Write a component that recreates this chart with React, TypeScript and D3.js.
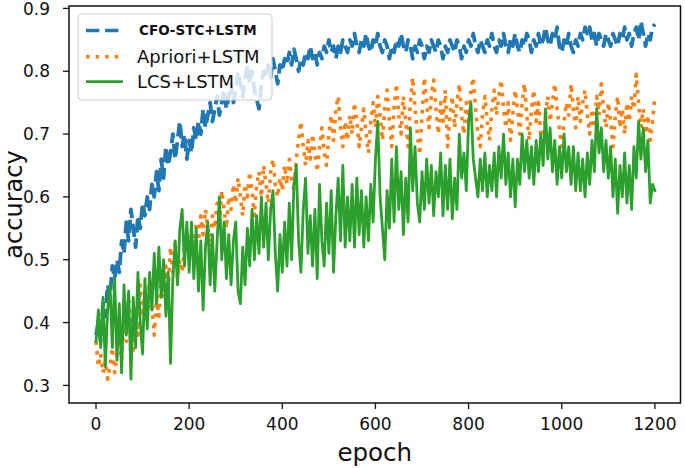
import React from "react";
import * as d3 from "d3";

const epochStep = 5;
const xTicks = [0, 200, 400, 600, 800, 1000, 1200];
const yTicks = [0.3, 0.4, 0.5, 0.6, 0.7, 0.8, 0.9];
const seriesNames = ["CFO-STC+LSTM", "Apriori+LSTM", "LCS+LSTM"];

const cfoStc = [
  0.38, 0.40, 0.37, 0.43, 0.41, 0.46, 0.44, 0.49, 0.47, 0.50, 0.48, 0.53, 0.51, 0.56, 0.53, 0.58, 0.55, 0.52, 0.57, 0.55,
  0.59, 0.57, 0.60, 0.58, 0.62, 0.60, 0.64, 0.61, 0.66, 0.63, 0.68, 0.65, 0.67, 0.70, 0.66, 0.69, 0.72, 0.68, 0.70, 0.66,
  0.69, 0.67, 0.71, 0.69, 0.72, 0.70, 0.74, 0.71, 0.73, 0.75, 0.72, 0.74, 0.76, 0.73, 0.75, 0.77, 0.74, 0.76, 0.78, 0.75,
  0.77, 0.80, 0.78, 0.76, 0.79, 0.81, 0.78, 0.80, 0.77, 0.755, 0.74, 0.78, 0.80, 0.79, 0.81, 0.79, 0.82, 0.80, 0.78, 0.81,
  0.80, 0.82, 0.81, 0.83, 0.81, 0.835, 0.82, 0.80, 0.82, 0.81, 0.83, 0.82, 0.84, 0.82, 0.83, 0.81, 0.83, 0.82, 0.84, 0.83,
  0.85, 0.83, 0.84, 0.82, 0.84, 0.83, 0.85, 0.84, 0.83, 0.85, 0.84, 0.86, 0.84, 0.83, 0.85, 0.84, 0.86, 0.84, 0.83, 0.85,
  0.84, 0.86, 0.84, 0.83, 0.85, 0.84, 0.82, 0.84, 0.83, 0.85, 0.84, 0.86, 0.84, 0.83, 0.85, 0.84, 0.82, 0.84, 0.83, 0.85,
  0.84, 0.82, 0.84, 0.83, 0.85, 0.84, 0.83, 0.85, 0.84, 0.82, 0.84, 0.83, 0.85, 0.84, 0.83, 0.85, 0.84, 0.82, 0.84, 0.83,
  0.85, 0.84, 0.86, 0.84, 0.83, 0.85, 0.84, 0.83, 0.85, 0.84, 0.86, 0.84, 0.83, 0.85, 0.84, 0.86, 0.84, 0.83, 0.85, 0.84,
  0.86, 0.84, 0.83, 0.85, 0.84, 0.86, 0.85, 0.83, 0.85, 0.84, 0.86, 0.84, 0.85, 0.87, 0.85, 0.84, 0.86, 0.85, 0.87, 0.84,
  0.83, 0.85, 0.84, 0.86, 0.84, 0.83, 0.85, 0.84, 0.86, 0.85, 0.87, 0.86, 0.87, 0.85, 0.86, 0.84, 0.86, 0.85, 0.84, 0.86,
  0.85, 0.84, 0.86, 0.85, 0.84, 0.86, 0.85, 0.87, 0.85, 0.86, 0.84, 0.86, 0.87, 0.85, 0.88, 0.86, 0.84, 0.86, 0.85, 0.87,
  0.875,
];

const apriori = [
  0.37, 0.33, 0.35, 0.32, 0.34, 0.31, 0.33, 0.36, 0.32, 0.35, 0.38, 0.34, 0.41, 0.37, 0.44, 0.39, 0.35, 0.42, 0.38, 0.46,
  0.41, 0.45, 0.40, 0.47, 0.43, 0.38, 0.44, 0.41, 0.47, 0.44, 0.49, 0.45, 0.52, 0.48, 0.53, 0.47, 0.50, 0.48, 0.52, 0.55,
  0.50, 0.54, 0.51, 0.56, 0.53, 0.57, 0.54, 0.58, 0.55, 0.52, 0.57, 0.55, 0.59, 0.56, 0.61, 0.58, 0.55, 0.60, 0.58, 0.62,
  0.59, 0.63, 0.60, 0.57, 0.62, 0.60, 0.64, 0.61, 0.57, 0.62, 0.64, 0.60, 0.65, 0.62, 0.59, 0.64, 0.66, 0.62, 0.60, 0.63,
  0.61, 0.65, 0.62, 0.66, 0.63, 0.61, 0.66, 0.69, 0.72, 0.68, 0.65, 0.69, 0.66, 0.70, 0.67, 0.64, 0.68, 0.71, 0.67, 0.65,
  0.70, 0.73, 0.69, 0.74, 0.76, 0.71, 0.68, 0.72, 0.69, 0.73, 0.70, 0.75, 0.72, 0.68, 0.71, 0.74, 0.70, 0.67, 0.72, 0.75,
  0.71, 0.76, 0.73, 0.69, 0.74, 0.77, 0.72, 0.68, 0.74, 0.78, 0.73, 0.70, 0.76, 0.72, 0.68, 0.75, 0.79, 0.74, 0.70, 0.667,
  0.73, 0.79, 0.75, 0.71, 0.76, 0.786, 0.74, 0.70, 0.75, 0.72, 0.77, 0.68, 0.73, 0.76, 0.71, 0.75, 0.78, 0.73, 0.70, 0.75,
  0.72, 0.77, 0.79, 0.74, 0.70, 0.68, 0.73, 0.76, 0.72, 0.69, 0.74, 0.77, 0.73, 0.76, 0.786, 0.74, 0.71, 0.75, 0.69, 0.73,
  0.77, 0.74, 0.70, 0.75, 0.78, 0.73, 0.69, 0.74, 0.77, 0.72, 0.75, 0.70, 0.68, 0.73, 0.76, 0.72, 0.75, 0.78, 0.74, 0.71,
  0.68, 0.72, 0.75, 0.73, 0.78, 0.74, 0.71, 0.76, 0.72, 0.75, 0.77, 0.73, 0.70, 0.74, 0.71, 0.76, 0.73, 0.78, 0.74, 0.71,
  0.75, 0.72, 0.68, 0.73, 0.76, 0.71, 0.74, 0.70, 0.75, 0.72, 0.76, 0.74, 0.795, 0.75, 0.71, 0.74, 0.70, 0.73, 0.69, 0.72,
  0.76,
];

const lcs = [
  0.37, 0.42, 0.36, 0.44, 0.33, 0.42, 0.46, 0.36, 0.47, 0.34, 0.43, 0.32, 0.46, 0.38, 0.45, 0.31, 0.44, 0.36, 0.48, 0.40,
  0.35, 0.47, 0.39, 0.48, 0.42, 0.51, 0.43, 0.52, 0.44, 0.50, 0.41, 0.48, 0.335, 0.47, 0.53, 0.46, 0.55, 0.58, 0.49, 0.56,
  0.48, 0.56, 0.47, 0.55, 0.45, 0.53, 0.42, 0.52, 0.56, 0.46, 0.54, 0.45, 0.53, 0.60, 0.50, 0.56, 0.47, 0.54, 0.46, 0.53,
  0.56, 0.45, 0.43, 0.52, 0.46, 0.55, 0.49, 0.58, 0.50, 0.57, 0.51, 0.60, 0.52, 0.59, 0.50, 0.58, 0.61, 0.51, 0.45, 0.54,
  0.48, 0.56, 0.49, 0.59, 0.50, 0.62, 0.65, 0.53, 0.48, 0.58, 0.63, 0.51, 0.57, 0.49, 0.58, 0.47, 0.62, 0.53, 0.49, 0.59,
  0.51, 0.61, 0.48, 0.57, 0.63, 0.53, 0.65, 0.52, 0.60, 0.53, 0.62, 0.52, 0.63, 0.54, 0.61, 0.52, 0.60, 0.53, 0.62, 0.56,
  0.66, 0.72, 0.60, 0.55, 0.50, 0.61, 0.55, 0.66, 0.56, 0.68, 0.58, 0.64, 0.54, 0.63, 0.56, 0.71, 0.61, 0.68, 0.59, 0.56,
  0.64, 0.58, 0.66, 0.59, 0.65, 0.57, 0.64, 0.60, 0.67, 0.57, 0.65, 0.58, 0.66, 0.565, 0.63, 0.58, 0.70, 0.63, 0.67, 0.61,
  0.72, 0.75, 0.66, 0.63, 0.60, 0.66, 0.61, 0.67, 0.60, 0.65, 0.61, 0.67, 0.60, 0.68, 0.63, 0.70, 0.62, 0.67, 0.60, 0.66,
  0.584, 0.66, 0.62, 0.70, 0.64, 0.69, 0.63, 0.68, 0.62, 0.69, 0.64, 0.70, 0.65, 0.74, 0.66, 0.71, 0.64, 0.69, 0.62, 0.68,
  0.63, 0.70, 0.64, 0.68, 0.62, 0.68, 0.61, 0.67, 0.61, 0.66, 0.60, 0.67, 0.62, 0.69, 0.64, 0.74, 0.67, 0.71, 0.64, 0.69,
  0.63, 0.68, 0.60, 0.66, 0.574, 0.65, 0.60, 0.67, 0.59, 0.65, 0.58, 0.68, 0.63, 0.72, 0.66, 0.71, 0.64, 0.69, 0.59, 0.62,
  0.61,
];

const colors = ["#1f77b4", "#ff7f0e", "#2ca02c"];
const FONT = "DejaVu Sans, sans-serif";
const LW = 3.6;
const widths = [3.8, 3.6, 2.8];

export default function App() {
  const W = 685;
  const H = 468;
  const x = d3.scaleLinear().domain([-58, 1255]).range([69, 680.5]);
  const y = d3.scaleLinear().domain([0.272, 0.9038]).range([403, 6]);
  const line = d3
    .line<number>()
    .x((_, i) => x(i * epochStep))
    .y((d) => y(d));
  const series = [cfoStc, apriori, lcs];
  const dashes = [`${LW * 3.7} ${LW * 1.6}`, `${LW} ${LW * 1.65}`, undefined];
  const [x0, x1] = x.range();
  const [yb, yt] = y.range();
  const legendRows = [30.5, 56.7, 81.7];

  return (
    <svg
      width={W}
      height={H}
      style={{ position: "absolute", left: 0, top: 0, background: "#fff" }}
    >
      <rect x={0} y={0} width={W} height={H} fill="#fff" />
      <defs>
        <clipPath id="plotClip">
          <rect x={x0} y={yt} width={x1 - x0} height={yb - yt} />
        </clipPath>
      </defs>
      <g clipPath="url(#plotClip)">
        {series.map((s, k) => (
          <path
            key={k}
            d={line(s) || ""}
            fill="none"
            stroke={colors[k]}
            strokeWidth={widths[k]}
            strokeDasharray={dashes[k]}
            strokeLinejoin="round"
            strokeLinecap={k === 2 ? "square" : "butt"}
          />
        ))}
      </g>
      {/* spines */}
      <rect x={x0} y={yt} width={x1 - x0} height={yb - yt} fill="none" stroke="#111" strokeWidth={1.5} />
      {/* x ticks */}
      {xTicks.map((t) => (
        <g key={t}>
          <line x1={x(t)} x2={x(t)} y1={yb} y2={yb + 6} stroke="#111" strokeWidth={1.3} />
          <text x={x(t)} y={429.5} textAnchor="middle" fontFamily={FONT} fontSize={17} fill="#111">
            {t}
          </text>
        </g>
      ))}
      {/* y ticks */}
      {yTicks.map((t) => (
        <g key={t}>
          <line x1={x0 - 6} x2={x0} y1={y(t)} y2={y(t)} stroke="#111" strokeWidth={1.3} />
          <text x={50} y={y(t) + 6.2} textAnchor="end" fontFamily={FONT} fontSize={17} fill="#111">
            {t.toFixed(1)}
          </text>
        </g>
      ))}
      <text x={(x0 + x1) / 2} y={461} textAnchor="middle" fontFamily={FONT} fontSize={24.5} fill="#111">
        epoch
      </text>
      <text
        transform={`translate(21.5, ${(yb + yt) / 2}) rotate(-90)`}
        textAnchor="middle"
        fontFamily={FONT}
        fontSize={24}
        fill="#111"
      >
        accuracy
      </text>
      {/* legend */}
      <rect x={78} y={14} width={194} height={86} rx={4} fill="#fff" fillOpacity={0.8} stroke="#cccccc" strokeWidth={1} />
      {seriesNames.map((n, k) => (
        <g key={n}>
          <line
            x1={86}
            x2={123}
            y1={legendRows[k]}
            y2={legendRows[k]}
            stroke={colors[k]}
            strokeWidth={k === 2 ? 2.8 : LW}
            strokeDasharray={dashes[k]}
          />
          <text
            x={k === 0 ? 139 : 137}
            y={k === 0 ? 35.3 : legendRows[k] + 6.5}
            fontFamily={FONT}
            fontSize={k === 0 ? 13.5 : 18}
            fontWeight={k === 0 ? "bold" : "normal"}
            fill="#111"
          >
            {n}
          </text>
        </g>
      ))}
    </svg>
  );
}
